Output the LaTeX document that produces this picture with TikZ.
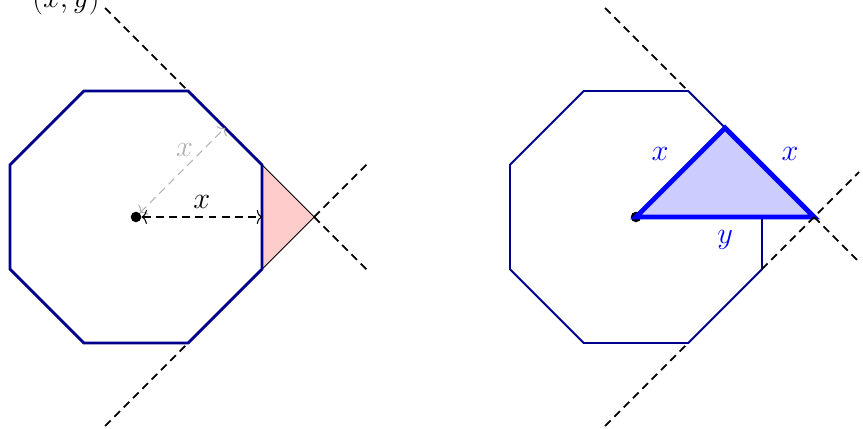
\documentclass[tikz,border=0pt]{standalone}
\usepackage{amsmath}
\usetikzlibrary{positioning,arrows.meta,calc}

\begin{document}
\begin{tikzpicture}[
  font=\fontsize{16}{19}\selectfont,
  oct/.style     ={draw=blue!55!black, line join=miter},
  octthick/.style={oct, line width=1.6pt},
  octthin/.style ={oct, line width=1.1pt},
  ext/.style     ={dash pattern=on 4.5pt off 3pt, line width=1pt},
  cut/.style     ={draw, fill=red!20, line width=0.5pt},
  tri/.style     ={draw=blue, fill=blue!20, line width=2.8pt, line join=miter},
  meas/.style    ={{To[length=3pt,width=8pt]}-{To[length=3pt,width=8pt]},
                   dash pattern=on 4.5pt off 3pt, line width=0.6pt},
  dot/.style     ={circle, fill, inner sep=0pt, minimum size=6pt},
  lbl/.style     ={text=blue},
]
\useasboundingbox (0,0) rectangle (17.26,8.58);

% clipped caption at the top
\node[anchor=base east, inner sep=0pt] (cap) at (2.0,8.42) {$(x,y)$};

% left octagon
\coordinate (lc) at (2.72,4.24);
\foreach \i in {1,...,8}
  \coordinate (l\i) at ($(lc)+({45*\i-22.5}:2.728)$);
\coordinate (lp) at ($(lc)+(3.564,0)$);
\coordinate (lm) at ($(l1)!0.5!(l2)$);
\coordinate (le) at ($(l1)!0.5!(l8)$);

\draw[ext] ($(l2)!-2.35cm!(l1)$) -- (l2);
\draw[ext] ($(l7)!-2.35cm!(l8)$) -- (l7);
\draw[ext] (lp) -- ($(lp)!-1.56cm!(l1)$);
\draw[ext] (lp) -- ($(lp)!-1.56cm!(l8)$);

\filldraw[cut] (l1) -- (lp) -- (l8) -- cycle;
\draw[octthick] (l1) -- (l2) -- (l3) -- (l4) -- (l5) -- (l6) -- (l7) -- (l8) -- cycle;

\node[dot] (lo) at (lc) {};
\draw[meas, gray!60] (lo) -- node[shift={(0.04,0.4)}] {$x$} (lm);
\draw[meas] (lo) -- node[above=1pt] {$x$} (le);

% right octagon
\coordinate (rc) at (12.72,4.24);
\foreach \i in {1,...,8}
  \coordinate (r\i) at ($(rc)+({45*\i-22.5}:2.728)$);
\coordinate (rp) at ($(rc)+(3.564,0)$);
\coordinate (rm) at ($(r1)!0.5!(r2)$);
\coordinate (re) at ($(r1)!0.5!(r8)$);

\draw[ext] ($(r2)!-2.35cm!(r1)$) -- (r2);
\draw[ext] ($(r7)!-2.35cm!(r8)$) -- (r7);

\draw[octthin] (re) -- (r8) -- (r7) -- (r6) -- (r5) -- (r4) -- (r3) -- (r2) -- (r1);

\node[dot] (ro) at (rc) {};
\filldraw[tri] (rc) -- node[lbl, above left=3pt] {$x$} (rm)
  -- node[lbl, above right=3pt] {$x$} (rp)
  -- node[lbl, below=3pt] {$y$} cycle;

\draw[ext] (r8) -- ($(rp)!-1.27cm!(r8)$);
\draw[ext] (rp) -- ($(rp)!-1.27cm!(r1)$);

\end{tikzpicture}
\end{document}
